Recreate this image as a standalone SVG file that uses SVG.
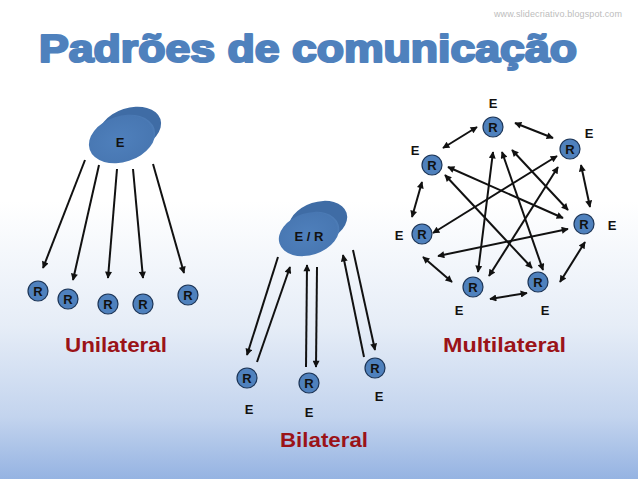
<svg xmlns="http://www.w3.org/2000/svg" width="638" height="479" viewBox="0 0 638 479">
<defs>
<linearGradient id="bg" x1="0" y1="0" x2="0" y2="1">
<stop offset="0" stop-color="#ffffff"/>
<stop offset="0.42" stop-color="#ffffff"/>
<stop offset="0.68" stop-color="#e6edf7"/>
<stop offset="0.87" stop-color="#c3d4ee"/>
<stop offset="1" stop-color="#95b3e2"/>
</linearGradient>
<marker id="ah" viewBox="0 0 10 10" refX="9" refY="5" markerWidth="9" markerHeight="7" markerUnits="userSpaceOnUse" orient="auto-start-reverse">
<path d="M0,0 L10,5 L0,10 z" fill="#111"/>
</marker>
<radialGradient id="disk" cx="0.45" cy="0.5" r="0.6">
<stop offset="0" stop-color="#4f80bc"/>
<stop offset="0.85" stop-color="#4877b2"/>
<stop offset="1" stop-color="#5787c0"/>
</radialGradient>
</defs>
<style>
.r circle{fill:#4f81bd;stroke:#1c3557;stroke-width:1.2}
.r text,.lbl{font-family:"Liberation Sans",Arial,sans-serif;font-weight:bold;font-size:13px;fill:#111;text-anchor:middle}
.c line{stroke:#111;stroke-width:2;marker-end:url(#ah)}
.c line.d{marker-start:url(#ah)}
.title{font-family:"Liberation Sans",Arial,sans-serif;font-weight:900;font-size:38px;fill:#4f81bd;stroke:#4f81bd;stroke-width:2.2;stroke-linejoin:round}
.cap{font-family:"Liberation Sans",Arial,sans-serif;font-weight:bold;font-size:21px;fill:#9b1318}
.back{fill:#3f6ca5}
.front{fill:url(#disk)}
</style>
<rect width="638" height="479" fill="url(#bg)"/>
<text x="494" y="17" font-family="Liberation Sans,Arial,sans-serif" font-size="9" fill="#bdbdbd" textLength="128">www.slidecriativo.blogspot.com</text>
<text class="title" x="39" y="62" textLength="538" lengthAdjust="spacingAndGlyphs">Padrões de comunicação</text>

<!-- Unilateral -->
<g id="uni-E">
<ellipse class="back" cx="130" cy="129" rx="32" ry="21" transform="rotate(-18 130 129)"/>
<ellipse class="front" cx="122" cy="139" rx="34" ry="23" transform="rotate(-18 122 139)"/>
<text class="lbl" x="120" y="147">E</text>
</g>
<g id="uni-R1" class="r"><circle cx="38" cy="291" r="10"/><text x="38" y="296">R</text></g>
<g id="uni-R2" class="r"><circle cx="68" cy="299" r="10"/><text x="68" y="304">R</text></g>
<g id="uni-R3" class="r"><circle cx="108" cy="304" r="10"/><text x="108" y="309">R</text></g>
<g id="uni-R4" class="r"><circle cx="143" cy="304" r="10"/><text x="143" y="309">R</text></g>
<g id="uni-R5" class="r"><circle cx="188" cy="295" r="10"/><text x="188" y="300">R</text></g>
<text class="cap" x="65" y="352" textLength="102" lengthAdjust="spacingAndGlyphs">Unilateral</text>

<!-- Bilateral -->
<g id="bi-ER">
<ellipse class="back" cx="318" cy="222" rx="30" ry="20" transform="rotate(-18 318 222)"/>
<ellipse class="front" cx="309" cy="234" rx="31" ry="21" transform="rotate(-18 309 234)"/>
<text class="lbl" x="309" y="241">E / R</text>
</g>
<g id="bi-R1" class="r"><circle cx="247" cy="378" r="10"/><text x="247" y="383">R</text></g>
<g id="bi-R2" class="r"><circle cx="309" cy="383" r="10"/><text x="309" y="388">R</text></g>
<g id="bi-R3" class="r"><circle cx="375" cy="368" r="10"/><text x="375" y="373">R</text></g>
<text class="lbl" x="249" y="414">E</text>
<text class="lbl" x="309" y="417">E</text>
<text class="lbl" x="379" y="401">E</text>
<text class="cap" x="280" y="447" textLength="88" lengthAdjust="spacingAndGlyphs">Bilateral</text>

<!-- Multilateral -->
<g id="m-N1" class="r"><circle cx="493" cy="127" r="10"/><text x="493" y="132">R</text></g>
<g id="m-N2" class="r"><circle cx="570" cy="149" r="10"/><text x="570" y="154">R</text></g>
<g id="m-N3" class="r"><circle cx="432" cy="165" r="10"/><text x="432" y="170">R</text></g>
<g id="m-N4" class="r"><circle cx="584" cy="224" r="10"/><text x="584" y="229">R</text></g>
<g id="m-N5" class="r"><circle cx="422" cy="234" r="10"/><text x="422" y="239">R</text></g>
<g id="m-N6" class="r"><circle cx="473" cy="287" r="10"/><text x="473" y="292">R</text></g>
<g id="m-N7" class="r"><circle cx="538" cy="282" r="10"/><text x="538" y="287">R</text></g>
<text class="lbl" x="493" y="108">E</text>
<text class="lbl" x="589" y="138">E</text>
<text class="lbl" x="415" y="155">E</text>
<text class="lbl" x="612" y="230">E</text>
<text class="lbl" x="399" y="240">E</text>
<text class="lbl" x="459" y="315">E</text>
<text class="lbl" x="545" y="315">E</text>
<text class="cap" x="443" y="352" textLength="123" lengthAdjust="spacingAndGlyphs">Multilateral</text>

<g id="connectors" class="c">
<!-- unilateral -->
<line x1="85" y1="160" x2="43" y2="268"/>
<line x1="99" y1="165" x2="73" y2="280"/>
<line x1="117" y1="169" x2="108" y2="278"/>
<line x1="133" y1="169" x2="143" y2="278"/>
<line x1="153" y1="164" x2="184" y2="273"/>
<!-- bilateral -->
<line x1="278" y1="257" x2="247" y2="355"/>
<line x1="257" y1="362" x2="290" y2="267"/>
<line x1="306" y1="367" x2="307" y2="265"/>
<line x1="317" y1="267" x2="316" y2="367"/>
<line x1="364" y1="357" x2="343" y2="255"/>
<line x1="353" y1="250" x2="375" y2="350"/>
<!-- multilateral ring -->
<line class="d" x1="515" y1="123" x2="553" y2="138"/>
<line class="d" x1="477" y1="127" x2="443" y2="148"/>
<line class="d" x1="581" y1="165" x2="590" y2="207"/>
<line class="d" x1="422" y1="182" x2="412" y2="217"/>
<line class="d" x1="423" y1="257" x2="452" y2="282"/>
<line class="d" x1="490" y1="299" x2="527" y2="293"/>
<line class="d" x1="585" y1="242" x2="560" y2="282"/>
<!-- multilateral inner -->
<line class="d" x1="493" y1="152" x2="478" y2="272"/>
<line class="d" x1="502" y1="152" x2="543" y2="270"/>
<line class="d" x1="512" y1="150" x2="568" y2="210"/>
<line class="d" x1="448" y1="167" x2="563" y2="218"/>
<line class="d" x1="445" y1="175" x2="532" y2="268"/>
<line class="d" x1="557" y1="156" x2="433" y2="233"/>
<line class="d" x1="558" y1="167" x2="489" y2="276"/>
<line class="d" x1="568" y1="229" x2="438" y2="256"/>
</g>
</svg>
